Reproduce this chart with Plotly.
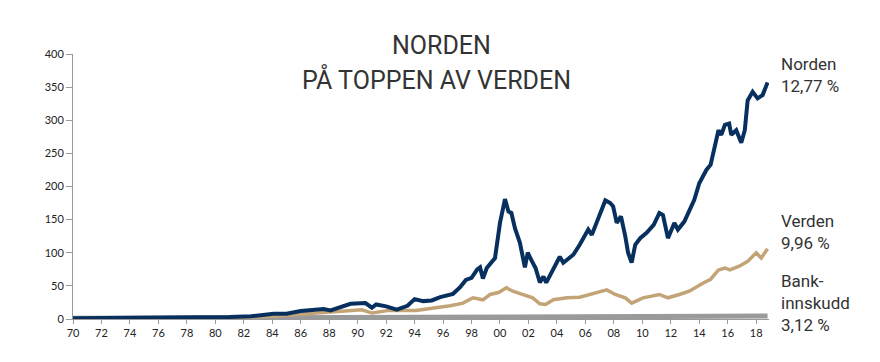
import plotly.graph_objects as go

# ---- data ----
norden_x = [1970.0, 1972.0, 1973.5, 1974.5, 1975.5, 1977.0, 1979.0, 1981.0, 1982.5, 1984.1,
            1985.0, 1986.0, 1987.6, 1988.1, 1989.5, 1990.55, 1991.0, 1991.3, 1992.0, 1992.75,
            1993.5, 1994.0, 1994.6, 1995.2, 1995.8, 1996.7, 1997.2, 1997.6, 1998.0, 1998.4,
            1998.6, 1998.8, 1999.07, 1999.65, 2000.0, 2000.35, 2000.6, 2000.8, 2001.05, 2001.4,
            2001.75, 2001.95, 2002.25, 2002.5, 2002.8, 2003.05, 2003.25, 2003.75, 2004.2, 2004.45,
            2005.15, 2005.6, 2006.2, 2006.45, 2006.9, 2007.4, 2007.75, 2007.95, 2008.2, 2008.5,
            2008.8, 2009.0, 2009.25, 2009.5, 2009.85, 2010.3, 2010.8, 2011.2, 2011.45, 2011.8,
            2012.25, 2012.5, 2012.95, 2013.3, 2013.65, 2014.0, 2014.5, 2014.8, 2015.1, 2015.35,
            2015.55, 2015.8, 2016.1, 2016.25, 2016.6, 2016.95, 2017.2, 2017.4, 2017.75, 2018.1,
            2018.45, 2018.8]
norden_y = [1.0, 1.2, 1.4, 2.0, 1.5, 1.6, 1.8, 3, 4, 8,
            8, 12, 15, 13, 23, 24, 17, 22, 19, 14,
            20, 30, 27, 28, 33, 38, 48, 59, 62, 75,
            78, 61, 77, 92, 145, 181, 162, 160, 137, 115,
            78, 100, 87, 77, 55, 64, 55, 77, 94, 85,
            97, 112, 135, 127, 150, 179, 175, 170, 145, 155,
            125, 100, 85, 112, 122, 130, 142, 160, 157, 122,
            145, 135, 147, 165, 180, 205, 225, 233, 260, 285,
            278, 293, 295, 278, 285, 266, 285, 330, 343, 333,
            338, 357]

verden_x = [1970.0, 1975.0, 1980.0, 1982.5, 1984.0, 1985.7, 1988.1, 1990.3, 1991.0, 1992.2,
            1994.1, 1995.5, 1996.5, 1997.4, 1998.1, 1998.8, 1999.3, 1999.9, 2000.45, 2000.9,
            2001.6, 2002.3, 2002.8, 2003.2, 2003.75, 2004.7, 2005.6, 2006.55, 2007.5, 2008.1,
            2008.8, 2009.25, 2010.05, 2011.2, 2011.8, 2012.6, 2013.3, 2014.25, 2014.8, 2015.35,
            2015.8, 2016.15, 2016.85, 2017.4, 2018.0, 2018.35, 2018.8]
verden_y = [1.0, 1.2, 1.5, 2.5, 4, 7, 10, 14, 9, 13,
            13, 17, 20, 24, 32, 29, 37, 40, 47, 42,
            37, 32, 23, 22, 29, 32, 33, 39, 44, 37,
            32, 24, 32, 37, 32, 37, 42, 54, 60, 74,
            77, 74, 80, 87, 100, 92, 106]

bank_x = [1970, 1975, 1980, 1985, 1990, 1995, 2000, 2005, 2010, 2015, 2018.8]
bank_y = [1.0, 1.15, 1.35, 1.6, 1.85, 2.15, 2.5, 2.9, 3.4, 4.0, 4.4]

tick_years = list(range(1970, 2019, 2))
tick_labels = [f"{y % 100:02d}" for y in tick_years]
y_ticks = [0, 50, 100, 150, 200, 250, 300, 350, 400]

labels = [("Norden<br>12,77 %", 75.5), ("Verden<br>9,96 %", 232), ("Bank-<br>innskudd<br>3,12 %", 303)]

OFF = 8  # page body margin
fig = go.Figure()
fig.add_trace(go.Scatter(x=bank_x, y=bank_y, mode="lines",
                         line=dict(color="#9a9a9a", width=5), hoverinfo="skip"))
fig.add_trace(go.Scatter(x=verden_x, y=verden_y, mode="lines",
                         line=dict(color="#c3a477", width=3.5)))
fig.add_trace(go.Scatter(x=norden_x, y=norden_y, mode="lines",
                         line=dict(color="#08305f", width=4)))

L, T, W, H = 73 - OFF, 54 - OFF, 696, 265.5
FW, FH = 880 - OFF, 362 - OFF
fig.update_layout(
    width=FW, height=FH,
    margin=dict(l=L, r=FW - L - W, t=T, b=FH - T - H),
    plot_bgcolor="white", paper_bgcolor="white",
    showlegend=False,
    font=dict(family="Lato", color="#222"),
    xaxis=dict(range=[1970, 2018.9], tickmode="array", tickvals=tick_years, ticktext=tick_labels,
               showgrid=False, zeroline=False, showline=True, linecolor="#9a9a9a", linewidth=1,
               ticks="outside", ticklen=4, tickcolor="#9a9a9a", tickfont=dict(size=11, color="#222")),
    yaxis=dict(range=[0, 400], tickmode="array", tickvals=y_ticks,
               showgrid=False, zeroline=False, showline=True, linecolor="#9a9a9a", linewidth=1,
               ticks="outside", ticklen=6, tickcolor="#9a9a9a", tickfont=dict(size=11, color="#222")),
)


def px_x(xp):
    return (xp - OFF - L) / W


def px_y(yp):
    return (T + H - (yp - OFF)) / H


fig.add_annotation(text="NORDEN", xref="paper", yref="paper", x=px_x(441), y=px_y(45),
                   showarrow=False, xanchor="center", yanchor="middle",
                   font=dict(family="Roboto", size=25, color="#333"))
fig.add_annotation(text="PÅ TOPPEN AV VERDEN", xref="paper", yref="paper", x=px_x(436),
                   y=px_y(80), showarrow=False, xanchor="center", yanchor="middle",
                   font=dict(family="Roboto", size=25, color="#333"))

for txt, ypx in labels:
    fig.add_annotation(text=txt, xref="paper", yref="paper", x=px_x(779), y=px_y(ypx),
                       showarrow=False, xanchor="left", yanchor="middle", align="left",
                       font=dict(family="Roboto", size=17, color="#333"))

fig.write_html("out.html")
